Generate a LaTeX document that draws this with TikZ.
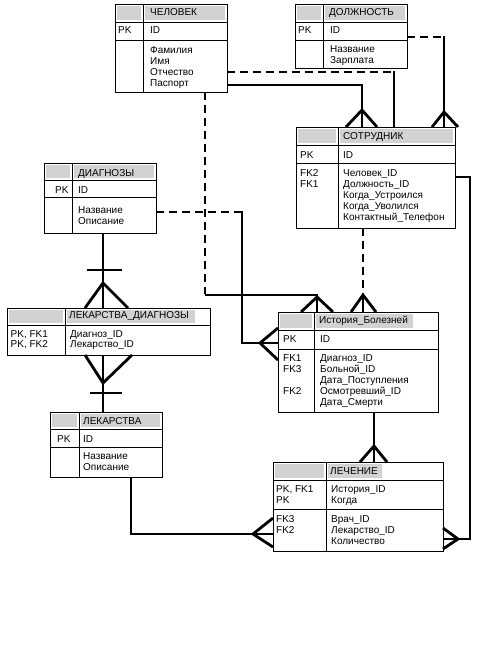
\documentclass[tikz,border=0pt]{standalone}
\usepackage{fontspec}
\newfontfamily\arialf{Liberation Sans}
\definecolor{ttlgray}{HTML}{D2D2D2}
\tikzset{
  tbl/.style={draw=black, line width=0.9pt, inner sep=0pt, outer sep=0pt, fill=white},
  tblline/.style={draw=black, line width=0.9pt},
  ttl/.style={fill=ttlgray},
  lbl/.style={font=\arialf\fontsize{10}{11}\selectfont, inner sep=0pt, anchor=base west},
  conn/.style={draw=black, line width=2.8pt},
  dconn/.style={conn, dash pattern=on 8pt off 5pt},
}
% #1 name, #2 x1, #3 y1, #4 x2, #5 y2, #6 divider x, #7 title bottom, #8 pk bottom (or empty), #9 gray right
\newcommand{\ertable}[9]{%
  \node[tbl, anchor=north west, minimum width={(#4-#2)*1pt}, minimum height={(#5-#3)*1pt}] (#1) at (#2,#3) {};
  \fill[ttl] (#2+1.8,#3+1.8) rectangle (#6-1.8,#7-1.8);
  \fill[ttl] (#6+1.8,#3+1.8) rectangle (#9,#7-1.8);
  \draw[tblline] (#6,#3) -- (#6,#5);
  \draw[tblline] (#2,#7) -- (#4,#7);
  \ifx&#8&\else\draw[tblline] (#2,#8) -- (#4,#8);\fi
}
\newcommand{\tx}[4]{\node[lbl] (#1) at (#2,#3) {#4};}
\begin{document}
\begin{tikzpicture}[x=1pt,y=-1pt]
\useasboundingbox[fill=white] (0,0) rectangle (476,671);

% ---------------- tables ----------------
% ЧЕЛОВЕК
\ertable{chel}{115}{4}{227}{92}{143}{22}{40}{225}
\tx{chel-t}{150}{15.5}{ЧЕЛОВЕК}
\tx{chel-pk}{118}{33.5}{PK}
\tx{chel-id}{150}{33.5}{ID}
\tx{chel-a1}{150}{54}{Фамилия}
\tx{chel-a2}{150}{65}{Имя}
\tx{chel-a3}{150}{76}{Отчество}
\tx{chel-a4}{150}{87}{Паспорт}

% ДОЛЖНОСТЬ
\ertable{dolzh}{295}{4}{407}{68}{323}{22}{40}{405}
\tx{dolzh-t}{329}{15.5}{ДОЛЖНОСТЬ}
\tx{dolzh-pk}{298}{33.5}{PK}
\tx{dolzh-id}{330}{33.5}{ID}
\tx{dolzh-a1}{330}{53}{Название}
\tx{dolzh-a2}{330}{64}{Зарплата}

% СОТРУДНИК
\ertable{sotr}{296}{127}{455}{228}{338}{145}{163}{453}
\tx{sotr-t}{343}{140}{СОТРУДНИК}
\tx{sotr-pk}{300}{158.5}{PK}
\tx{sotr-id}{343}{158.5}{ID}
\tx{sotr-k1}{300}{176.5}{FK2}
\tx{sotr-k2}{300}{187.5}{FK1}
\tx{sotr-a1}{343}{176.5}{Человек\_ID}
\tx{sotr-a2}{343}{187.5}{Должность\_ID}
\tx{sotr-a3}{343}{198.5}{Когда\_Устроился}
\tx{sotr-a4}{343}{209.5}{Когда\_Уволился}
\tx{sotr-a5}{343}{220.5}{Контактный\_Телефон}

% ДИАГНОЗЫ
\ertable{diag}{44}{163}{156}{233}{72}{180}{197}{154}
\tx{diag-t}{78}{176}{ДИАГНОЗЫ}
\tx{diag-pk}{55}{193.5}{PK}
\tx{diag-id}{78}{193.5}{ID}
\tx{diag-a1}{78}{213}{Название}
\tx{diag-a2}{78}{224}{Описание}

% ЛЕКАРСТВА_ДИАГНОЗЫ
\ertable{lekdiag}{7}{308}{210}{355}{65}{325}{}{195}
\tx{lekdiag-t}{69}{318.5}{ЛЕКАРСТВА\_ДИАГНОЗЫ}
\tx{lekdiag-k1}{10.5}{337}{PK, FK1}
\tx{lekdiag-k2}{10.5}{347.5}{PK, FK2}
\tx{lekdiag-a1}{70}{337}{Диагноз\_ID}
\tx{lekdiag-a2}{70}{347.5}{Лекарство\_ID}

% ЛЕКАРСТВА
\ertable{lek}{50}{412}{162}{477}{79}{429}{447}{160}
\tx{lek-t}{83}{424}{ЛЕКАРСТВА}
\tx{lek-pk}{57}{442}{PK}
\tx{lek-id}{83}{442}{ID}
\tx{lek-a1}{83}{459}{Название}
\tx{lek-a2}{83}{470.5}{Описание}

% История_Болезней
\ertable{ist}{278}{312}{438}{412}{314}{330}{349}{413}
\tx{ist-t}{319}{323.5}{История\_Болезней}
\tx{ist-pk}{283}{342.5}{PK}
\tx{ist-id}{320}{342.5}{ID}
\tx{ist-k1}{283}{361}{FK1}
\tx{ist-k2}{283}{372}{FK3}
\tx{ist-k3}{283}{394}{FK2}
\tx{ist-a1}{320}{361}{Диагноз\_ID}
\tx{ist-a2}{320}{372}{Больной\_ID}
\tx{ist-a3}{320}{383}{Дата\_Поступления}
\tx{ist-a4}{320}{394}{Осмотревший\_ID}
\tx{ist-a5}{320}{405}{Дата\_Смерти}

% ЛЕЧЕНИЕ
\ertable{lech}{273}{462}{443}{551}{326}{480}{509}{382}
\tx{lech-t}{330}{474}{ЛЕЧЕНИЕ}
\tx{lech-k1}{276}{492}{PK, FK1}
\tx{lech-k2}{276}{503}{PK}
\tx{lech-k3}{276}{522}{FK3}
\tx{lech-k4}{276}{533}{FK2}
\tx{lech-a1}{331}{492}{История\_ID}
\tx{lech-a2}{331}{503}{Когда}
\tx{lech-a3}{331}{522}{Врач\_ID}
\tx{lech-a4}{331}{533}{Лекарство\_ID}
\tx{lech-a5}{331}{544}{Количество}

% ---------------- connectors ----------------
% ЧЕЛОВЕК -> СОТРУДНИК (solid, crow's foot)
\draw[conn] (chel.east |- 0,85) -| (362,0 |- sotr.north);
\draw[conn] (346,0 |- sotr.north) -- (362,110) -- (377,0 |- sotr.north);

% ЧЕЛОВЕК -> СОТРУДНИК (dashed then solid drop)
\draw[dconn] (chel.east |- 0,72) -- (394,72);
\draw[conn] (394,70.6) -- (394,0 |- sotr.north);

% ДОЛЖНОСТЬ -> СОТРУДНИК
\draw[dconn] (dolzh.east |- 0,37) -- (444,37);
\draw[conn] (444,35.6) -- (444,0 |- sotr.north);
\draw[conn] (432,0 |- sotr.north) -- (444,112) -- (458,0 |- sotr.north);

% СОТРУДНИК -> История_Болезней (dashed)
\draw[dconn] (363,0 |- sotr.south) -- (363,295);
\draw[conn] (363,295) -- (363,0 |- ist.north);
\draw[conn] (351,0 |- ist.north) -- (363,295) -- (376,0 |- ist.north);

% СОТРУДНИК -> ЛЕЧЕНИЕ (solid)
\draw[conn] (sotr.east |- 0,177) -| (470,539) -- (lech.east |- 0,539);
\draw[conn] (lech.east |- 0,528) -- (458,539) -- (lech.east |- 0,549);

% ЧЕЛОВЕК -> История_Болезней
\draw[dconn] (205,0 |- chel.south) -- (205,293.6);
\draw[conn] (205,295) -| (317,0 |- ist.north);
\draw[conn] (301,0 |- ist.north) -- (317,297) -- (333,0 |- ist.north);

% ДИАГНОЗЫ -> История_Болезней
\draw[dconn] (diag.east |- 0,212) -- (242,212);
\draw[conn] (242,210.6) |- (ist.west |- 0,343);
\draw[conn] (ist.west |- 0,328) -- (260,343) -- (ist.west |- 0,360);

% ДИАГНОЗЫ -> ЛЕКАРСТВА_ДИАГНОЗЫ
\draw[conn] (103,0 |- diag.south) -- (103,0 |- lekdiag.north);
\draw[conn] (87,270) -- (122,270);
\draw[conn] (85,0 |- lekdiag.north) -- (103,283) -- (128,0 |- lekdiag.north);

% ЛЕКАРСТВА -> ЛЕКАРСТВА_ДИАГНОЗЫ
\draw[conn] (103,0 |- lekdiag.south) -- (103,0 |- lek.north);
\draw[conn] (90,393) -- (122,393);
\draw[conn] (85,0 |- lekdiag.south) -- (103,383) -- (132,0 |- lekdiag.south);

% ЛЕКАРСТВА -> ЛЕЧЕНИЕ
\draw[conn] (131,0 |- lek.south) |- (lech.west |- 0,534);
\draw[conn] (lech.west |- 0,518) -- (253,534) -- (lech.west |- 0,547);

% История_Болезней -> ЛЕЧЕНИЕ
\draw[conn] (374,0 |- ist.south) -- (374,0 |- lech.north);
\draw[conn] (360,0 |- lech.north) -- (374,446) -- (387,0 |- lech.north);
\end{tikzpicture}
\end{document}
